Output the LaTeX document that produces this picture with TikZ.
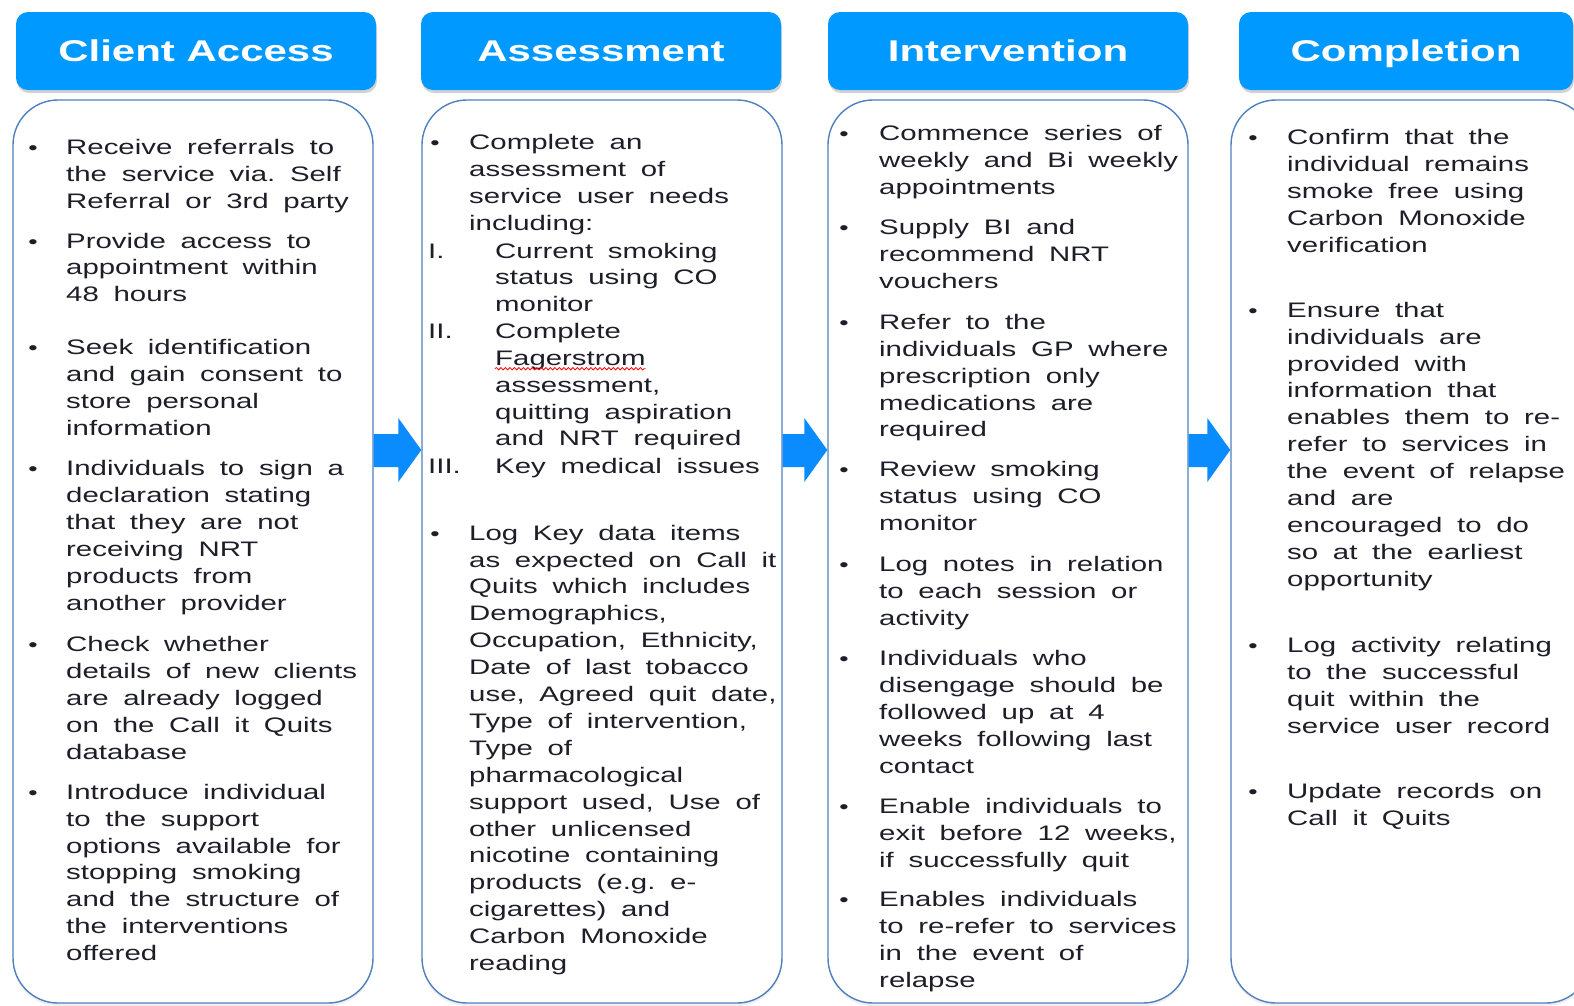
\documentclass[tikz,border=0pt]{standalone}
\usepackage{fontspec}
\setmainfont{Liberation Sans}
\newfontfamily\bodyfont[FakeStretch=1.4,WordSpace=1.8]{Liberation Sans}
\newfontfamily\headfont[FakeStretch=1.4]{Liberation Sans Bold}
\frenchspacing
\usetikzlibrary{shadows,calc,decorations.pathmorphing}
\definecolor{hdrblue}{RGB}{0,153,255}
\definecolor{arrblue}{RGB}{10,140,255}
\definecolor{boxline}{RGB}{79,129,189}
\definecolor{txtdark}{RGB}{30,30,40}
\newcommand\widespaces{\spaceskip=\fontdimen2\font\relax\xspaceskip=\fontdimen2\font\relax}
\tikzset{
  hdr/.style={fill=hdrblue, rounded corners=12pt, minimum width=360pt, minimum height=78pt,
    inner sep=0pt, text height=21.5pt, text depth=0pt, text=white,
    font=\headfont\fontsize{30}{36}\selectfont,
    drop shadow={shadow xshift=1pt, shadow yshift=-3pt, opacity=0.35}},
  cbox/.style={draw=boxline, line width=1.4pt, fill=white, rounded corners=45pt,
    minimum width=360pt, minimum height=903pt, inner sep=0pt,
    drop shadow={shadow xshift=0pt, shadow yshift=-3pt, opacity=0.12}},
  itm/.style={anchor=base west, inner sep=0pt, text width=340pt, align=left,
    text=txtdark, font=\bodyfont\fontsize{21}{26.9}\selectfont},
  word/.style={anchor=base west, inner sep=0pt, text=txtdark,
    font=\bodyfont\fontsize{21}{26.9}\selectfont},
  bul/.style={anchor=base, inner sep=0pt, text=txtdark,
    font=\bodyfont\fontsize{19}{20}\selectfont},
  flow/.style={fill=arrblue},
  spell/.style={red, line width=0.8pt, decorate,
    decoration={snake, amplitude=1.2pt, segment length=4.5pt}}
}
\newcommand\bitem[5]{%
  \node[bul] (#1-b) at (#2,#4) {•};
  \node[itm] (#1) at (#3,#4) {\widespaces #5};
}
\newcommand\flowarrow[2]{%
  \fill[flow] ($(#1.east |- ar)+(0,-16)$) -- ($(#2.west |- ar)+(-23,-16)$)
    -- ($(#2.west |- ar)+(-23,-32)$) -- (#2.west |- ar)
    -- ($(#2.west |- ar)+(-23,32)$) -- ($(#2.west |- ar)+(-23,17)$)
    -- ($(#1.east |- ar)+(0,17)$) -- cycle;
}
\begin{document}
\begin{tikzpicture}[x=1pt,y=-1pt]
\useasboundingbox (0,0) rectangle (1574,1005);
\fill[white] (0,0) rectangle (1574,1005);
\clip (0,0) rectangle (1574,1005);

% headers
\node[hdr] (h1) at (196,51) {Client Access};
\node[hdr] (h2) at (601,51) {Assessment};
\node[hdr] (h3) at (1008,51) {Intervention};
\node[hdr, minimum width=334pt] (h4) at (1406,51) {Completion};

% content boxes
\node[cbox] (c1) at (193,551.5) {};
\node[cbox] (c2) at (602,551.5) {};
\node[cbox] (c3) at (1008,551.5) {};
\node[cbox] (c4) at (1411,551.5) {};

% arrows
\coordinate (ar) at (0,450);
\flowarrow{c1}{c2}
\flowarrow{c2}{c3}
\flowarrow{c3}{c4}

% column 1
\bitem{a1}{33}{66}{154.6}{Receive referrals to\\the service via. Self\\Referral or 3rd party}
\bitem{a2}{33}{66}{248}{Provide access to\\appointment within\\48 hours}
\bitem{a3}{33}{66}{354.4}{Seek identification\\and gain consent to\\store personal\\information}
\bitem{a4}{33}{66}{475.9}{Individuals to sign a\\declaration stating\\that they are not\\receiving NRT\\products from\\another provider}
\bitem{a5}{33}{66}{651.6}{Check whether\\details of new clients\\are already logged\\on the Call it Quits\\database}
\bitem{a6}{33}{66}{799.2}{Introduce individual\\to the support\\options available for\\stopping smoking\\and the structure of\\the interventions\\offered}

% column 2
\bitem{b1}{435}{469}{149.6}{Complete an\\assessment of\\service user needs\\including:}
\node[word] (r1) at (428,258) {I.};
\node[itm] (r1t) at (495,258) {\widespaces Current smoking\\status using CO\\monitor};
\node[word] (r2) at (428,338.3) {II.};
\node[word] (r2a) at (495,338.3) {Complete};
\node[word] (fag) at (495,365.2) {Fagerstrom};
\node[itm] (r2b) at (495,392.1) {\widespaces assessment,\\quitting aspiration\\and NRT required};
\draw[spell] ([yshift=-3.5pt]fag.base west) -- ([yshift=-3.5pt]fag.base east);
\node[word] (r3) at (428,473.9) {III.};
\node[word] (r3t) at (495,473.9) {Key medical issues};
\bitem{b2}{435}{469}{540.1}{Log Key data items\\as expected on Call it\\Quits which includes\\Demographics,\\Occupation, Ethnicity,\\Date of last tobacco\\use, Agreed quit date,\\Type of intervention,\\Type of\\pharmacological\\support used, Use of\\other unlicensed\\nicotine containing\\products (e.g. e-\\cigarettes) and\\Carbon Monoxide\\reading}

% column 3
\bitem{d1}{844}{879}{140.5}{Commence series of\\weekly and Bi weekly\\appointments}
\bitem{d2}{844}{879}{234.9}{Supply BI and\\recommend NRT\\vouchers}
\bitem{d3}{844}{879}{329.3}{Refer to the\\individuals GP where\\prescription only\\medications are\\required}
\bitem{d4}{844}{879}{476.9}{Review smoking\\status using CO\\monitor}
\bitem{d5}{844}{879}{571.2}{Log notes in relation\\to each session or\\activity}
\bitem{d6}{844}{879}{665.6}{Individuals who\\disengage should be\\followed up at 4\\weeks following last\\contact}
\bitem{d7}{844}{879}{813.2}{Enable individuals to\\exit before 12 weeks,\\if successfully quit}
\bitem{d8}{844}{879}{906.6}{Enables individuals\\to re-refer to services\\in the event of\\relapse}

% column 4
\bitem{e1}{1253}{1287}{144.5}{Confirm that the\\individual remains\\smoke free using\\Carbon Monoxide\\verification}
\bitem{e2}{1253}{1287}{317.2}{Ensure that\\individuals are\\provided with\\information that\\enables them to re-\\refer to services in\\the event of relapse\\and are\\encouraged to do\\so at the earliest\\opportunity}
\bitem{e3}{1253}{1287}{652.6}{Log activity relating\\to the successful\\quit within the\\service user record}
\bitem{e4}{1253}{1287}{798.2}{Update records on\\Call it Quits}
\end{tikzpicture}
\end{document}
